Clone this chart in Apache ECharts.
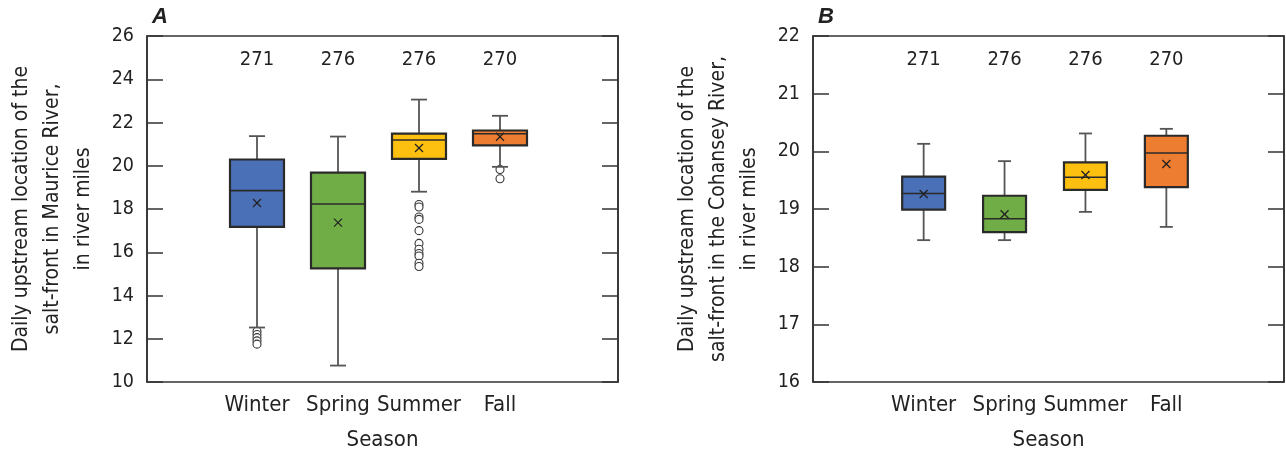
<!DOCTYPE html>
<html><head><meta charset="utf-8">
<script src="https://cdn.jsdelivr.net/npm/echarts@6/dist/echarts.min.js"></script>
<style>html,body{margin:0;padding:0;background:#fff}#c{width:1286px;height:459px}</style>
</head><body><div id="c"></div>
<script>
// ---- data ----
var categories = ['Winter', 'Spring', 'Summer', 'Fall'];
var countsA = ['271', '276', '276', '270'];
var countsB = ['271', '276', '276', '270'];
// [lower whisker, Q1, median, Q3, upper whisker]
var boxA = [
  [12.52, 17.17, 18.85, 20.29, 21.37],
  [10.76, 15.25, 18.23, 19.68, 21.35],
  [18.80, 20.32, 21.19, 21.49, 23.06],
  [19.95, 20.94, 21.48, 21.63, 22.31]
];
var meanA = [18.28, 17.37, 20.82, 21.34];
var outWinterA = [12.35, 12.2, 12.05, 11.9, 11.75];
var outSummerA = [18.21, 18.09, 17.63, 17.52, 17.0, 16.41, 16.14, 15.94, 15.83, 15.49, 15.34];
var outFallA = [19.83, 19.4];
var boxB = [
  [18.46, 18.99, 19.27, 19.56, 20.13],
  [18.46, 18.60, 18.83, 19.23, 19.83],
  [18.95, 19.33, 19.55, 19.81, 20.31],
  [18.69, 19.38, 19.97, 20.27, 20.39]
];
var meanB = [19.26, 18.91, 19.59, 19.78];
var ticksA = {min: 10, max: 26, interval: 2};
var ticksB = {min: 16, max: 22, interval: 1};

// ---- style ----
var colors = ['#4A70B7', '#70AD47', '#FDC010', '#ED7D31'];
var FONT = "'Liberation Sans Narrow','DejaVu Sans Condensed','Liberation Sans',sans-serif";
var AX = '#333';

function boxData(box, mean) {
  return box.map(function (b, i) { return [i].concat(b).concat([mean[i]]); });
}
function outData(listByCat) {
  var d = [];
  listByCat.forEach(function (l, i) { (l || []).forEach(function (v) { d.push([i, v]); }); });
  return d;
}
function makeRender(boxFrac, capFrac) {
  return function (params, api) {
    var i = api.value(0);
    var band = api.size([1, 0])[0];
    var bw = band * boxFrac, cw = band * capFrac;
    var lo = api.coord([i, api.value(1)]);
    var q1 = api.coord([i, api.value(2)]);
    var md = api.coord([i, api.value(3)]);
    var q3 = api.coord([i, api.value(4)]);
    var hi = api.coord([i, api.value(5)]);
    var mn = api.coord([i, api.value(6)]);
    var x = lo[0];
    var wl = {stroke: '#555', lineWidth: 1.8};
    var bl = {stroke: '#2a2a2a', lineWidth: 1.6};
    var m = 4;
    return {type: 'group', children: [
      {type: 'line', shape: {x1: x, y1: hi[1], x2: x, y2: q3[1]}, style: wl},
      {type: 'line', shape: {x1: x, y1: q1[1], x2: x, y2: lo[1]}, style: wl},
      {type: 'line', shape: {x1: x - cw / 2, y1: hi[1], x2: x + cw / 2, y2: hi[1]}, style: wl},
      {type: 'line', shape: {x1: x - cw / 2, y1: lo[1], x2: x + cw / 2, y2: lo[1]}, style: wl},
      {type: 'rect', shape: {x: x - bw / 2, y: q3[1], width: bw, height: q1[1] - q3[1]},
        style: {fill: colors[i], stroke: '#2a2a2a', lineWidth: 2.2}},
      {type: 'line', shape: {x1: x - bw / 2, y1: md[1], x2: x + bw / 2, y2: md[1]}, style: bl},
      {type: 'line', shape: {x1: mn[0] - m, y1: mn[1] - m, x2: mn[0] + m, y2: mn[1] + m}, style: {stroke: '#222', lineWidth: 1.3}},
      {type: 'line', shape: {x1: mn[0] - m, y1: mn[1] + m, x2: mn[0] + m, y2: mn[1] - m}, style: {stroke: '#222', lineWidth: 1.3}}
    ]};
  };
}

var frames = [
  {left: 147, top: 36, width: 471, height: 346},
  {left: 813, top: 36, width: 471, height: 346}
];
var dataGrids = [
  {left: 216.5, top: 36, width: 324, height: 346},
  {left: 883.2, top: 36, width: 323.6, height: 346}
];
var yNames = [
  'Daily upstream location of the\nsalt-front in Maurice River,\nin river miles',
  'Daily upstream location of the\nsalt-front in the Cohansey River,\nin river miles'
];
var ticks = [ticksA, ticksB];
var counts = [countsA, countsB];

var grid = [], xAxis = [], yAxis = [];
for (var p = 0; p < 2; p++) {
  var f = frames[p], d = dataGrids[p], t = ticks[p];
  grid.push({left: f.left, top: f.top, width: f.width, height: f.height, show: true, borderColor: AX, borderWidth: 1.6,
    backgroundColor: 'transparent', containLabel: false, outerBoundsMode: 'none'});
  grid.push({left: d.left, top: d.top, width: d.width, height: d.height, containLabel: false, outerBoundsMode: 'none'});
  var gf = p * 2, gd = p * 2 + 1;
  // frame x axis (Season title)
  xAxis.push({gridIndex: gf, type: 'value', min: 0, max: 1, axisLine: {show: false}, axisTick: {show: false}, axisLabel: {show: false}, splitLine: {show: false},
    name: 'Season', nameLocation: 'middle', nameGap: 47, nameTextStyle: {fontFamily: FONT, fontSize: 22, color: '#222'}});
  // data x axis (categories)
  xAxis.push({gridIndex: gd, type: 'category', data: categories, position: 'bottom', axisLine: {show: false}, axisTick: {show: false}, splitLine: {show: false},
    axisLabel: {interval: 0, fontFamily: FONT, fontSize: 22, color: '#222', margin: 12}});
  // data top axis (counts)
  xAxis.push({gridIndex: gd, type: 'category', data: counts[p], position: 'top', axisLine: {show: false}, axisTick: {show: false}, splitLine: {show: false},
    axisLabel: {interval: 0, inside: true, fontFamily: FONT, fontSize: 20, color: '#222', margin: 14}});
  // frame y axes
  yAxis.push({gridIndex: gf, type: 'value', min: t.min, max: t.max, interval: t.interval, position: 'left',
    axisLine: {show: true, lineStyle: {color: AX, width: 1.6}},
    axisTick: {show: true, inside: true, length: 16, lineStyle: {color: AX, width: 1.5}},
    axisLabel: {fontFamily: FONT, fontSize: 19.5, color: '#222', margin: 13},
    splitLine: {show: false},
    name: yNames[p], nameLocation: 'middle', nameGap: 48, nameRotate: 90,
    nameTextStyle: {fontFamily: FONT, fontSize: 21, color: '#222', lineHeight: 31, align: 'center'}});
  yAxis.push({gridIndex: gf, type: 'value', min: t.min, max: t.max, interval: t.interval, position: 'right',
    axisLine: {show: true, lineStyle: {color: AX, width: 1.6}},
    axisTick: {show: true, inside: true, length: 16, lineStyle: {color: AX, width: 1.5}},
    axisLabel: {show: false}, splitLine: {show: false}});
  yAxis.push({gridIndex: gd, type: 'value', min: t.min, max: t.max, show: false});
}

var series = [
  {type: 'custom', xAxisIndex: 1, yAxisIndex: 2, renderItem: makeRender(54 / 81, 16 / 81), data: boxData(boxA, meanA), z: 3},
  {type: 'scatter', xAxisIndex: 1, yAxisIndex: 2, data: outData([outWinterA, [], outSummerA, outFallA]), symbol: 'circle', symbolSize: 8,
    itemStyle: {color: '#fff', borderColor: '#333', borderWidth: 1.1, opacity: 1}, z: 2},
  {type: 'custom', xAxisIndex: 4, yAxisIndex: 5, renderItem: makeRender(43 / 81, 13 / 81), data: boxData(boxB, meanB), z: 3}
];

var chart = echarts.init(document.getElementById('c'), null, {renderer: 'canvas'});
chart.setOption({
  animation: false,
  backgroundColor: '#fff',
  title: [
    {text: 'A', left: 147, top: 1, textStyle: {fontFamily: "'Liberation Sans','DejaVu Sans',sans-serif", fontStyle: 'italic', fontWeight: 'bold', fontSize: 22, color: '#222'}},
    {text: 'B', left: 813, top: 1, textStyle: {fontFamily: "'Liberation Sans','DejaVu Sans',sans-serif", fontStyle: 'italic', fontWeight: 'bold', fontSize: 22, color: '#222'}}
  ],
  grid: grid, xAxis: xAxis, yAxis: yAxis, series: series
});
</script></body></html>
